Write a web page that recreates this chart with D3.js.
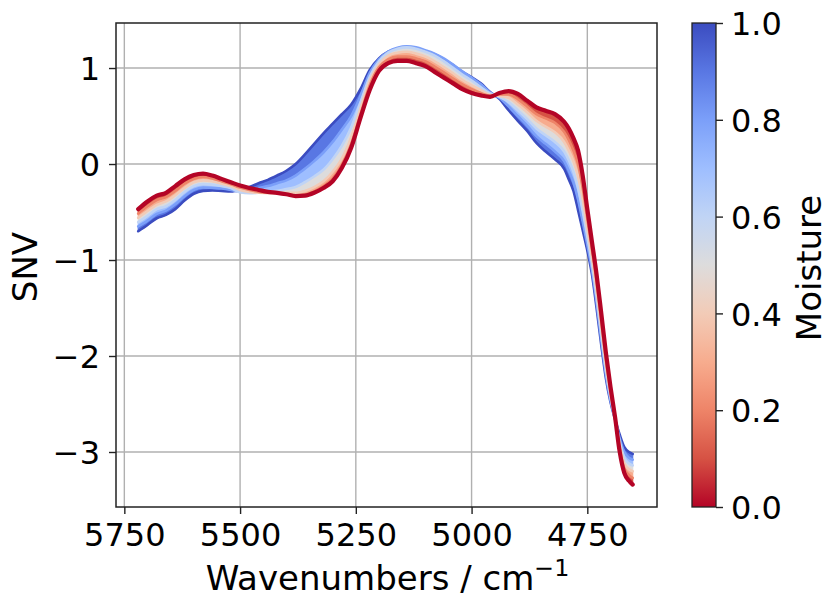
<!DOCTYPE html>
<html>
<head>
<meta charset="utf-8">
<script src="https://cdn.jsdelivr.net/npm/d3@7"></script>
<style>
  html, body { margin: 0; padding: 0; background: #fff; }
  svg { display: block; }
  text { font-family: "DejaVu Sans", sans-serif; fill: #000; }
</style>
</head>
<body>
<svg id="chart" width="828" height="597"></svg>
<script>
// ---------------- data ----------------
const wavenumbers = [5720,5700,5680,5660,5640,5620,5600,5580,5560,5540,5520,5500,5480,5460,5440,5420,5400,5380,5360,5340,5320,5300,5280,5260,5240,5220,5200,5180,5160,5140,5120,5100,5080,5060,5040,5020,5000,4980,4960,4940,4920,4900,4880,4860,4840,4820,4800,4790,4780,4770,4760,4750,4740,4730,4720,4710,4700,4690,4680,4670,4660,4652];

const moistureLevels = [1.0, 0.8, 0.6, 0.4, 0.2, 0.0];

const snvM100 = [-0.70,-0.635,-0.565,-0.53,-0.47,-0.38,-0.31,-0.28,-0.275,-0.28,-0.285,-0.27,-0.24,-0.20,-0.165,-0.12,-0.07,0.00,0.10,0.21,0.32,0.42,0.52,0.62,0.78,0.98,1.10,1.17,1.20,1.21,1.20,1.17,1.14,1.09,1.03,0.96,0.905,0.84,0.75,0.68,0.56,0.45,0.345,0.22,0.13,0.05,-0.05,-0.16,-0.28,-0.48,-0.69,-0.90,-1.15,-1.50,-1.88,-2.23,-2.48,-2.66,-2.82,-2.95,-3.00,-3.02];
const snvM080 = [-0.65,-0.59,-0.52,-0.485,-0.42,-0.335,-0.27,-0.245,-0.25,-0.255,-0.27,-0.29,-0.27,-0.25,-0.23,-0.20,-0.17,-0.12,-0.05,0.03,0.12,0.23,0.36,0.50,0.71,0.95,1.09,1.17,1.21,1.225,1.215,1.185,1.15,1.10,1.035,0.965,0.90,0.83,0.745,0.69,0.60,0.50,0.40,0.29,0.21,0.13,0.03,-0.07,-0.19,-0.37,-0.60,-0.84,-1.10,-1.44,-1.83,-2.19,-2.46,-2.66,-2.86,-3.00,-3.06,-3.08];
const snvM060 = [-0.605,-0.54,-0.47,-0.44,-0.375,-0.29,-0.23,-0.21,-0.215,-0.23,-0.25,-0.295,-0.305,-0.30,-0.29,-0.28,-0.26,-0.24,-0.19,-0.13,-0.06,0.05,0.19,0.38,0.64,0.91,1.07,1.16,1.20,1.215,1.20,1.17,1.13,1.07,1.00,0.93,0.87,0.80,0.735,0.70,0.645,0.56,0.47,0.37,0.30,0.23,0.13,0.04,-0.08,-0.25,-0.49,-0.76,-1.04,-1.38,-1.77,-2.14,-2.43,-2.655,-2.89,-3.06,-3.12,-3.14];
const snvM040 = [-0.56,-0.49,-0.425,-0.39,-0.325,-0.25,-0.19,-0.17,-0.18,-0.205,-0.23,-0.27,-0.29,-0.30,-0.305,-0.30,-0.30,-0.30,-0.28,-0.24,-0.18,-0.08,0.06,0.28,0.58,0.87,1.04,1.13,1.16,1.17,1.15,1.12,1.07,1.01,0.945,0.875,0.82,0.77,0.72,0.71,0.69,0.62,0.54,0.45,0.39,0.33,0.23,0.14,0.03,-0.13,-0.37,-0.67,-0.97,-1.31,-1.70,-2.09,-2.40,-2.65,-2.93,-3.12,-3.18,-3.20];
const snvM020 = [-0.515,-0.44,-0.375,-0.345,-0.28,-0.205,-0.155,-0.135,-0.15,-0.18,-0.21,-0.245,-0.27,-0.29,-0.30,-0.305,-0.315,-0.33,-0.32,-0.285,-0.23,-0.15,-0.01,0.21,0.52,0.82,1.01,1.09,1.12,1.12,1.10,1.07,1.015,0.955,0.89,0.83,0.78,0.74,0.71,0.725,0.725,0.675,0.60,0.52,0.475,0.43,0.335,0.25,0.14,0.00,-0.25,-0.57,-0.89,-1.23,-1.63,-2.03,-2.36,-2.645,-2.965,-3.17,-3.24,-3.27];
const snvM000 = [-0.47,-0.39,-0.33,-0.30,-0.23,-0.16,-0.115,-0.10,-0.12,-0.155,-0.19,-0.225,-0.25,-0.27,-0.29,-0.30,-0.315,-0.335,-0.33,-0.30,-0.25,-0.18,-0.04,0.17,0.48,0.77,0.97,1.05,1.075,1.075,1.05,1.02,0.96,0.90,0.84,0.78,0.74,0.715,0.70,0.74,0.76,0.73,0.66,0.59,0.555,0.52,0.44,0.37,0.27,0.14,-0.12,-0.47,-0.81,-1.15,-1.55,-1.96,-2.32,-2.64,-3.00,-3.22,-3.30,-3.34];

const spectra = [snvM100, snvM080, snvM060, snvM040, snvM020, snvM000];

const xTicks = [5750, 5500, 5250, 5000, 4750];
const yTicks = [-3, -2, -1, 0, 1];
const cbTicks = [0.0, 0.2, 0.4, 0.6, 0.8, 1.0];

// matplotlib "coolwarm" samples at t = 0, 0.1, ..., 1
const coolwarm = ["#3b4cc0","#5977e3","#7b9ff9","#9ebeff","#c0d4f5","#dddcdc","#f2cbb7","#f7ac8e","#ee8468","#d65244","#b40426"];

// ---------------- layout ----------------
const ax = {left: 116, right: 657, top: 23, bottom: 507};
const cb = {left: 692, right: 716, top: 23, bottom: 507};
const FS = 32;     // tick labels
const LFS = 34;    // axis labels

const svg = d3.select("#chart");

const x = d3.scaleLinear().domain([5768, 4599.5]).range([ax.left, ax.right]);
const y = d3.scaleLinear().domain([-3.573, 1.469]).range([ax.bottom, ax.top]);
// coolwarm reversed: moisture 1 -> blue, 0 -> red
const color = d3.scaleLinear()
  .domain(d3.range(11).map(i => 1 - i / 10))
  .range(coolwarm)
  .interpolate(d3.interpolateRgb);

const fmt = v => (v < 0 ? "\u2212" + Math.abs(v) : String(v));

// grid
const grid = svg.append("g");
grid.selectAll("line.gx").data(xTicks).join("line")
  .attr("x1", d => x(d)).attr("x2", d => x(d))
  .attr("y1", ax.top).attr("y2", ax.bottom)
  .attr("stroke", "#b0b0b0").attr("stroke-width", 1.4);
grid.selectAll("line.gy").data(yTicks).join("line")
  .attr("y1", d => y(d)).attr("y2", d => y(d))
  .attr("x1", ax.left).attr("x2", ax.right)
  .attr("stroke", "#b0b0b0").attr("stroke-width", 1.4);

// clip
svg.append("clipPath").attr("id", "clip").append("rect")
  .attr("x", ax.left).attr("y", ax.top)
  .attr("width", ax.right - ax.left).attr("height", ax.bottom - ax.top);

const plot = svg.append("g").attr("clip-path", "url(#clip)");

const line = d3.line()
  .x((d, i) => x(wavenumbers[i]))
  .y(d => y(d))
  .curve(d3.curveMonotoneX);

for (let k = 0; k < spectra.length; k++) {
  if (k < spectra.length - 1) {
    const a = spectra[k], b = spectra[k + 1];
    const mid = (moistureLevels[k] + moistureLevels[k + 1]) / 2;
    const area = d3.area()
      .x((d, i) => x(wavenumbers[i]))
      .y0((d, i) => y(a[i]))
      .y1((d, i) => y(b[i]))
      .curve(d3.curveMonotoneX);
    plot.append("path")
      .datum(a)
      .attr("d", area)
      .attr("fill", color(mid))
      .attr("stroke", color(mid))
      .attr("stroke-width", 1.2);
  }
  plot.append("path")
    .datum(spectra[k])
    .attr("d", line)
    .attr("fill", "none")
    .attr("stroke", color(moistureLevels[k]))
    .attr("stroke-width", k === spectra.length - 1 ? 4.2 : 2.6)
    .attr("stroke-linejoin", "round")
    .attr("stroke-linecap", "round");
}

// axes
const xAxis = d3.axisBottom(x).tickValues(xTicks).tickSize(7).tickPadding(9.3).tickFormat(fmt);
const gx = svg.append("g").attr("transform", `translate(0,${ax.bottom})`).call(xAxis);
const yAxis = d3.axisLeft(y).tickValues(yTicks).tickSize(7).tickPadding(9).tickFormat(fmt);
const gy = svg.append("g").attr("transform", `translate(${ax.left},0)`).call(yAxis);
gy.selectAll("text").attr("dy", "0.365em");

[gx, gy].forEach(g => {
  g.select(".domain").remove();
  g.selectAll(".tick line").attr("stroke", "#222").attr("stroke-width", 1.4);
  g.selectAll("text").attr("font-size", FS).attr("font-family", "DejaVu Sans");
});

// spines
svg.append("rect")
  .attr("x", ax.left).attr("y", ax.top)
  .attr("width", ax.right - ax.left).attr("height", ax.bottom - ax.top)
  .attr("fill", "none").attr("stroke", "#222").attr("stroke-width", 1.5);

// axis labels
const xl = svg.append("text")
  .attr("x", (ax.left + ax.right) / 2 + 1).attr("y", 590)
  .attr("text-anchor", "middle").attr("font-size", LFS);
xl.append("tspan").text("Wavenumbers / cm");
xl.append("tspan").attr("font-size", 23.8).attr("dy", -14).text("\u22121");

svg.append("text")
  .attr("transform", `translate(37,267) rotate(-90)`)
  .attr("text-anchor", "middle").attr("font-size", LFS)
  .text("SNV");

// colorbar
const cbScale = d3.scaleLinear().domain([0, 1]).range([cb.bottom, cb.top]);
const defs = svg.append("defs");
const grad = defs.append("linearGradient").attr("id", "cbgrad")
  .attr("x1", 0).attr("y1", 1).attr("x2", 0).attr("y2", 0);
grad.selectAll("stop").data(d3.range(0, 1.0001, 0.05)).join("stop")
  .attr("offset", d => d)
  .attr("stop-color", d => color(d));
svg.append("rect")
  .attr("x", cb.left).attr("y", cb.top)
  .attr("width", cb.right - cb.left).attr("height", cb.bottom - cb.top)
  .attr("fill", "url(#cbgrad)")
  .attr("stroke", "#222").attr("stroke-width", 1.3);

const cbAxis = d3.axisRight(cbScale).tickValues(cbTicks).tickSize(7).tickPadding(8)
  .tickFormat(d3.format(".1f"));
const gcb = svg.append("g").attr("transform", `translate(${cb.right},0)`).call(cbAxis);
gcb.select(".domain").remove();
gcb.selectAll(".tick line").attr("stroke", "#222").attr("stroke-width", 1.4);
gcb.selectAll("text").attr("font-size", FS).attr("font-family", "DejaVu Sans").attr("dy", "0.365em");

svg.append("text")
  .attr("transform", `translate(821,268) rotate(-90)`)
  .attr("text-anchor", "middle").attr("font-size", LFS)
  .text("Moisture");
</script>
</body>
</html>
